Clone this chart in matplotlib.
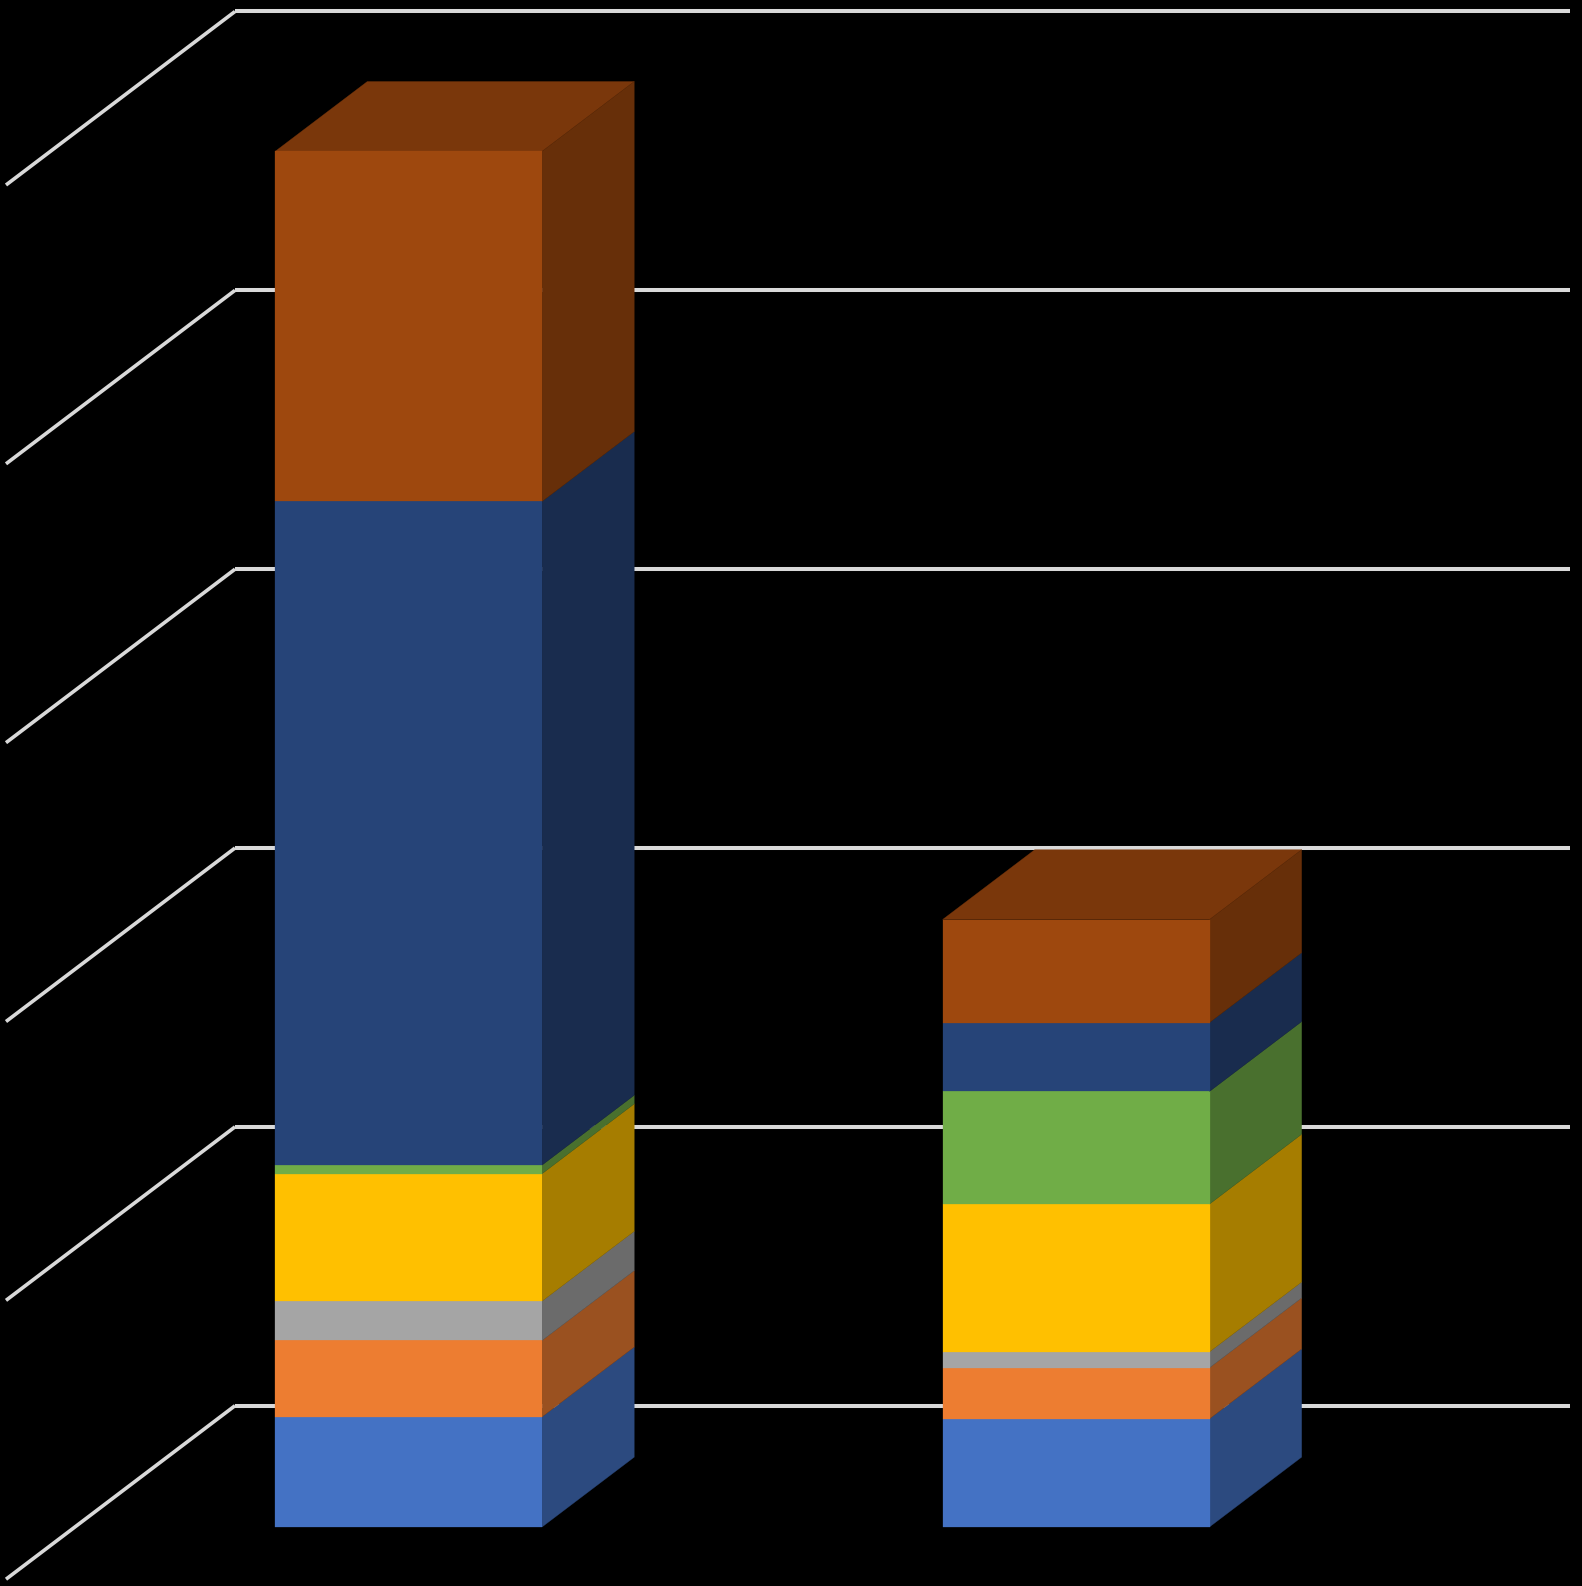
import numpy as np
import matplotlib
matplotlib.use("Agg")
import matplotlib.pyplot as plt
from matplotlib.colors import to_rgb

# stacked values (no labels survive in the original)
group_a = [39.5, 27.4, 14.1, 45.7, 3.1, 238.0, 125.55]
group_b = [38.8, 18.3, 5.7, 53.0, 40.4, 24.7, 36.95]
ticks = [0, 100, 200, 300, 400, 500]
colors = ["#4472C4", "#ED7D31", "#A5A5A5", "#FFC000", "#70AD47", "#264478", "#9E480E"]

W, H = 1582, 1586
cat_px = 667.4     # pixels per category
val_px = 2.7884    # pixels per value unit
depth_dx = 229 / cat_px    # how far the back wall is shifted from the front
depth_dy = 173.5 / val_px
bar_width = 0.4
bar_front, bar_back = 0.301, 0.7035


def proj(x, v, d):
    return x + depth_dx * d, v + depth_dy * d


def shade(c, f):
    return tuple(np.array(to_rgb(c)) * f)


def face(ax, pts, color):
    xy = [proj(*p) for p in pts]
    ax.fill([p[0] for p in xy], [p[1] for p in xy], color=color, lw=0.2, zorder=3)


fig = plt.figure(figsize=(W / 100, H / 100), dpi=100, facecolor="black")
ax = fig.add_axes([0, 0, 1, 1])
ax.set_facecolor("black")
ax.set_xlim(-6 / cat_px, (W - 6) / cat_px)
ax.set_ylim((1579.2 - H) / val_px, 1579.2 / val_px)
ax.axis("off")

# floor diagonals and back wall lines
for t in ticks:
    x0, y0 = proj(0, t, 0)
    x1, y1 = proj(0, t, 1)
    x2, y2 = proj(2, t, 1)
    ax.plot([x0, x1], [y0, y1], color="#D9D9D9", lw=2.6, solid_capstyle="butt", zorder=1)
    ax.plot([x1, x2], [y1, y2], color="#D9D9D9", lw=2.9, solid_capstyle="butt", zorder=1)

for i, vals in enumerate([group_a, group_b]):
    left = i + 0.5 - bar_width / 2
    right = i + 0.5 + bar_width / 2
    tops = np.cumsum(vals)
    bottoms = tops - np.array(vals)
    # lid takes the colour of the last segment, drawn first so the front sits over it
    face(ax, [(left, tops[-1], bar_front), (right, tops[-1], bar_front), (right, tops[-1], bar_back), (left, tops[-1], bar_back)], shade(colors[-1], 0.77))
    for b, t, c in zip(bottoms, tops, colors):
        # right side then front
        face(ax, [(right, b, bar_front), (right, b, bar_back), (right, t, bar_back), (right, t, bar_front)], shade(c, 0.65))
        face(ax, [(left, b, bar_front), (right, b, bar_front), (right, t, bar_front), (left, t, bar_front)], c)

fig.savefig("out.png", dpi=100, facecolor="black")
